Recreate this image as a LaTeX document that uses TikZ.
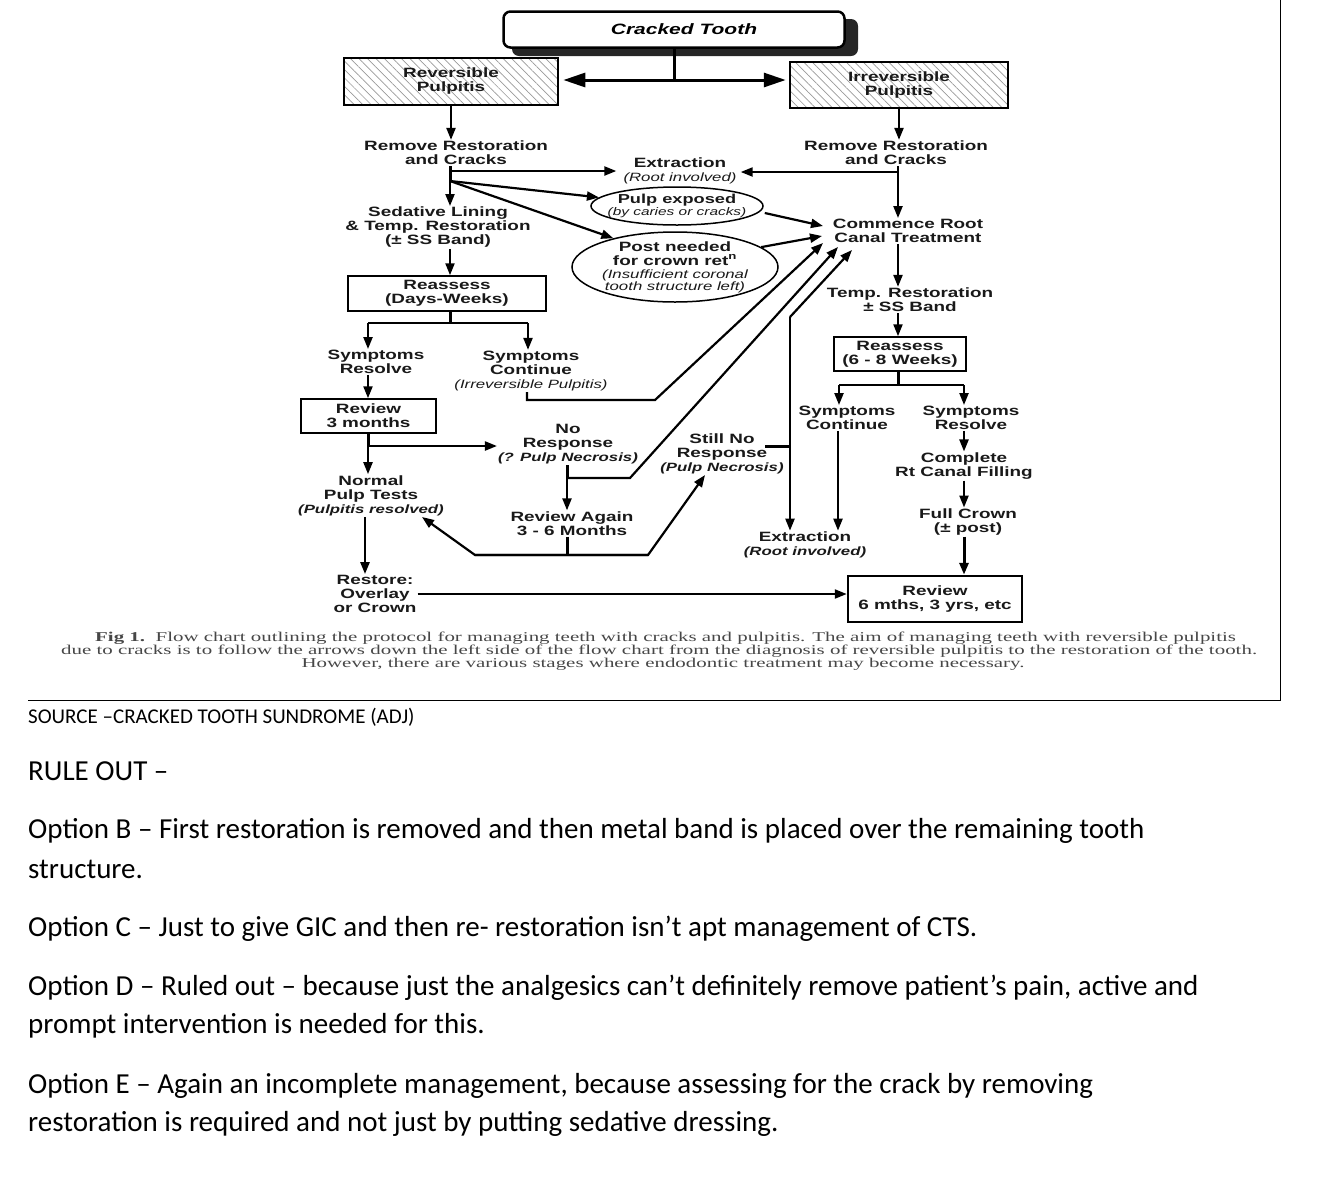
\documentclass[tikz,border=0pt]{standalone}
\usepackage{fontspec}
\setmainfont{Liberation Sans}
\newfontfamily\fcf[FakeStretch=1.4]{Liberation Sans}
\newfontfamily\capf[FakeStretch=1.55]{Liberation Serif}
\newfontfamily\bodyf{Carlito}
\usetikzlibrary{arrows.meta,shapes.geometric,patterns.meta}
\newcommand\myit[1]{{\mdseries\itshape\fontsize{12}{14}\selectfont #1}}
\newcommand\myitb[1]{{\itshape\fontsize{12}{14}\selectfont #1}}
\tikzset{
  fc/.style={font=\fcf\bfseries\fontsize{13.5}{14}\selectfont, text=black!90, align=center, inner sep=1pt},
  ln/.style={line width=2.2pt},
  arr/.style={line width=2.2pt, -{Triangle[length=12pt,width=9pt]}},
  bigarr/.style={line width=3pt, {Triangle[length=22pt,width=14pt]}-{Triangle[length=22pt,width=14pt]}},
  hbox/.style={fc, draw, line width=2.5pt, pattern={Lines[angle=-45,distance=6pt,line width=0.7pt]}, pattern color=black!40, inner sep=0pt},
  pbox/.style={fc, draw, line width=1.5pt, inner sep=0pt},
  oval/.style={draw, ellipse, line width=1.5pt, inner sep=0pt},
  capt/.style={font=\capf\fontsize{13.5}{13}\selectfont, text=black!72, inner sep=0pt},
  body/.style={font=\bodyf\fontsize{29}{32}\selectfont, anchor=west, inner sep=0pt}
}
\begin{document}
\begin{tikzpicture}[x=1pt,y=-1pt]
\useasboundingbox (0,0) rectangle (1320,1176);
% frame
\draw[line width=1pt] (28,700) -- (1280,700) -- (1280,0);

% Cracked tooth
\fill[black!85, rounded corners=7pt] (512,19) rectangle (858,56);
\node[draw, line width=2.5pt, fill=white, rounded corners=7pt, minimum width=341pt, minimum height=36pt, inner sep=0pt] (ct) at (674,29.5) {};
\node[font=\fcf\bfseries\itshape\fontsize{15}{16}\selectfont, inner sep=0pt] (ctT) at (684,29) {Cracked Tooth};
\node[hbox, minimum width=214pt, minimum height=47pt] (revbox) at (451,81.5) {Reversible\\Pulpitis};
\node[hbox, minimum width=218pt, minimum height=46pt] (irrbox) at (899,85) {Irreversible\\Pulpitis};
\coordinate (split) at (674,80);
\draw[line width=3pt] (ct.south) -- (split);
\draw[bigarr, shorten <=5pt, shorten >=3pt] (revbox.east |- split) -- (irrbox.west |- split);

% text nodes
\node[fc] (remL) at (456,153) {Remove Restoration\\and Cracks};
\node[fc] (remR) at (896,153) {Remove Restoration\\and Cracks};
\node[fc] (extT) at (680,170.5) {Extraction\\\myit{(Root involved)}};
\node[oval, minimum width=172pt, minimum height=38pt] (pulp) at (677,206) {};
\node[fc, font=\fcf\bfseries\fontsize{13}{13}\selectfont] (pulpT) at (pulp) {Pulp exposed\\[-1pt]{\mdseries\itshape\fontsize{11}{12}\selectfont (by caries or cracks)}};
\node[oval, minimum width=206pt, minimum height=70pt] (post) at (675,267) {};
\node[fc] (postT) at (post) {Post needed\\for crown ret\textsuperscript{n}\\[-1pt]\myit{(Insufficient coronal}\\[-2pt]\myit{tooth structure left)}};
\node[fc] (com) at (908,231) {Commence Root\\Canal Treatment};
\node[fc] (sed) at (438,227.5) {Sedative Lining\\\& Temp. Restoration\\(± SS Band)};
\node[pbox, minimum width=198pt, minimum height=35pt] (reaL) at (447,293.5) {Reassess\\(Days-Weeks)};
\node[fc] (symResL) at (376,362) {Symptoms\\Resolve};
\node[fc] (symConL) at (531,371) {Symptoms\\Continue\\\myit{(Irreversible Pulpitis)}};
\node[pbox, minimum width=135pt, minimum height=34pt] (rev3) at (368.5,416) {Review\\3 months};
\node[fc] (noResp) at (568,444) {No\\Response\\\myitb{(? Pulp Necrosis)}};
\node[fc] (normal) at (371,495.5) {Normal\\Pulp Tests\\\myitb{(Pulpitis resolved)}};
\node[fc] (revAgain) at (572,523.5) {Review Again\\3 - 6 Months};
\node[fc] (restore) at (375,594) {Restore:\\Overlay\\or Crown};
\node[fc] (stillNo) at (722,454) {Still No\\Response\\\myitb{(Pulp Necrosis)}};
\node[fc] (extB) at (805,545) {Extraction\\\myitb{(Root involved)}};
\node[fc] (temp) at (910,300) {Temp. Restoration\\± SS Band};
\node[pbox, minimum width=132pt, minimum height=34pt] (reaR) at (900,354) {Reassess\\(6 - 8 Weeks)};
\node[fc] (symConR) at (847,418) {Symptoms\\Continue};
\node[fc] (symResR) at (971,418) {Symptoms\\Resolve};
\node[fc] (complete) at (964,466) {Complete\\Rt Canal Filling};
\node[fc] (crown) at (968,522) {Full Crown\\(± post)};
\node[draw, fc, line width=2.5pt, minimum width=174pt, minimum height=46pt, inner sep=0pt] (revFinal) at (935,599) {Review\\6 mths, 3 yrs, etc};

% junction coordinates
\coordinate (jL1) at (450,171);
\coordinate (jL2) at (450,181);
\coordinate (jL3) at (450,323);
\coordinate (aL) at (368,323);
\coordinate (bL) at (528,323);
\coordinate (jL4) at (368,446);
\coordinate (jL5) at (365,520);
\coordinate (cB1) at (527,400);
\coordinate (cB2) at (655,400);
\coordinate (jM1) at (567,478);
\coordinate (dB) at (630,478);
\coordinate (jM2) at (567,555);
\coordinate (eL) at (475,555);
\coordinate (eR) at (648,555);
\coordinate (jF0) at (765,446);
\coordinate (jF) at (790,446);
\coordinate (topF) at (790,317);
\coordinate (jR) at (898,172);
\coordinate (jR2) at (898,385);
\coordinate (aR) at (839,385);
\coordinate (bR) at (964,385);
\coordinate (xC) at (838,440);
% arrow tips near nodes
\coordinate (tipA) at (823,226);
\coordinate (tipB) at (822,236);
\coordinate (tipC) at (823,243);
\coordinate (tipD) at (838,247);
\coordinate (tipF) at (852,250);
\coordinate (tipN) at (422,517);
\coordinate (tipS) at (705,475);

% top arrows
\draw[arr] (revbox.south) -- (revbox.south |- remL.north);
\draw[arr] (irrbox.south) -- (irrbox.south |- remR.north);

% left column
\draw[line width=3pt] (remL.south -| jL1) -- (jL2);
\draw[arr] (jL2) -- (sed.north -| jL1);
\draw[arr, shorten >=6pt] (jL1) -- (extT.west |- jL1);
\draw[arr] (jL2) -- (pulp);
\draw[arr] (jL2) -- (post.155);
\draw[arr] (sed.south -| jL1) -- (reaL.north -| jL1);
\draw[line width=3pt] (reaL.south -| jL3) -- (jL3);
\draw[ln] (aL) -- (bL);
\draw[arr] (aL) -- (symResL.north -| aL);
\draw[arr] (bL) -- (symConL.north -| bL);
\draw[arr] (symResL.south -| aL) -- (rev3.north -| aL);
\draw[line width=3pt] (rev3.south -| jL4) -- (jL4);
\draw[arr] (jL4) -- (normal.north -| jL4);
\draw[arr] (jL4) -- (noResp.west |- jL4);
\draw[arr, line width=2.5pt] (normal.south -| jL5) -- (restore.north -| jL5);
\draw[arr] (restore.east) -- (revFinal.west |- restore.east);

% middle
\draw[line width=3pt] (noResp.south -| jM1) -- (jM1);
\draw[arr] (jM1) -- (revAgain.north -| jM1);
\draw[line width=3pt] (revAgain.south -| jM2) -- (jM2);
\draw[arr] (eR) -- (eL) -- (tipN);
\draw[arr] (eL) -- (eR) -- (tipS);
\draw[arr] (symConL.south -| cB1) -- (cB1) -- (cB2) -- (tipC);
\draw[arr] (jM1) -- (dB) -- (tipD);
\draw[line width=3pt] (jF0) -- (jF);
\draw[arr] (topF) -- (extB.north -| topF);
\draw[arr] (topF) -- (tipF);
\draw[arr] ([shift={(1,7)}]pulp.east) -- (tipA);
\draw[arr] (post.13) -- (tipB);

% right column
\draw[arr] (remR.south -| jR) -- (com.north -| jR);
\draw[arr, shorten >=3pt] (jR) -- (extT.east |- jR);
\draw[arr] (com.south -| jR) -- (temp.north -| jR);
\draw[arr] (temp.south -| jR) -- (reaR.north -| jR);
\draw[line width=3pt] (reaR.south -| jR2) -- (jR2);
\draw[ln] (aR) -- (bR);
\draw[arr] (aR) -- (symConR.north -| aR);
\draw[arr] (bR) -- (symResR.north -| bR);
\draw[arr] (symConR.south -| xC) -- (extB.north -| xC);
\draw[arr] (symResR.south -| bR) -- (complete.north -| bR);
\draw[arr] (complete.south -| bR) -- (crown.north -| bR);
\draw[arr, line width=3pt] (crown.south -| bR) -- (revFinal.north -| bR);

% caption
\node[capt, anchor=west] (cap1) at (95,638) {\textbf{Fig 1.}\ \ Flow chart outlining the protocol for managing teeth with cracks and pulpitis. The aim of managing teeth with reversible pulpitis};
\node[capt, anchor=west] (cap2) at (61,651) {due to cracks is to follow the arrows down the left side of the flow chart from the diagnosis of reversible pulpitis to the restoration of the tooth.};
\node[capt] (cap3) at (663,664) {However, there are various stages where endodontic treatment may become necessary.};

% body text
\node[body, font=\bodyf\fontsize{21}{23}\selectfont] (src) at (28,717) {SOURCE –CRACKED TOOTH SUNDROME (ADJ)};
\node[body] (t1) at (28,771) {RULE OUT –};
\node[body] (t2) at (28,831) {Option B – First restoration is removed and then metal band is placed over the remaining tooth};
\node[body] (t3) at (28,869) {structure.};
\node[body] (t4) at (28,929) {Option C – Just to give GIC and then re- restoration isn’t apt management of CTS.};
\node[body] (t5) at (28,988) {Option D – Ruled out – because just the analgesics can’t definitely remove patient’s pain, active and};
\node[body] (t6) at (28,1026) {prompt intervention is needed for this.};
\node[body] (t7) at (28,1086) {Option E – Again an incomplete management, because assessing for the crack by removing};
\node[body] (t8) at (28,1124) {restoration is required and not just by putting sedative dressing.};
\end{tikzpicture}
\end{document}
